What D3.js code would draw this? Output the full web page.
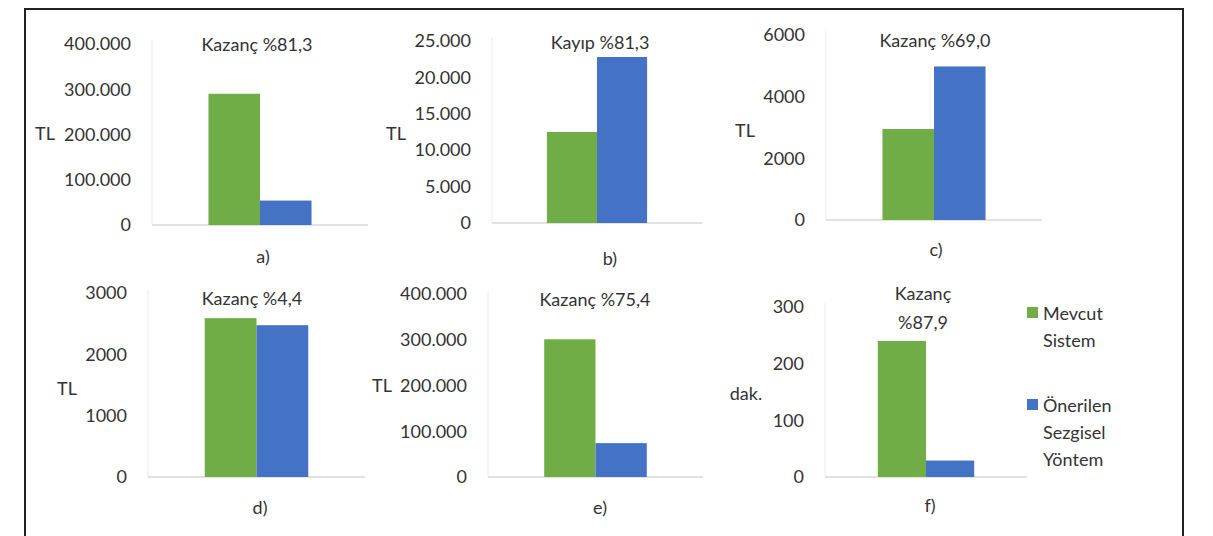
<!DOCTYPE html>
<html lang="tr">
<head>
<meta charset="utf-8">
<title>Mevcut Sistem / Önerilen Sezgisel Yöntem</title>
<script src="https://d3js.org/d3.v7.min.js"></script>
<style>
body { margin: 0; background: #fff; }
svg text { font-family: Lato, "Open Sans", sans-serif; fill: #333; }
</style>
</head>
<body>
<svg width="1213" height="536"></svg>
<script>
// data
var panelLabels = ["a)", "b)", "c)", "d)", "e)", "f)"];
var titles = [["Kazanç %81,3"], ["Kayıp %81,3"], ["Kazanç %69,0"], ["Kazanç %4,4"], ["Kazanç %75,4"], ["Kazanç", "%87,9"]];
var seriesNames = ["Mevcut Sistem", "Önerilen Sezgisel Yöntem"];
var mevcut = [290000, 12500, 2950, 2590, 301000, 240];
var onerilen = [54000, 22800, 4980, 2475, 74000, 29];
var yMax = [400000, 25000, 6000, 3000, 400000, 300];
var yStep = [100000, 5000, 2000, 1000, 100000, 100];
var yUnits = ["TL", "TL", "TL", "TL", "TL", "dak."];
var dotted = [true, true, false, false, true, false]; // 400.000 style thousands

var colors = ["#70ad47", "#4472c4"];

// where each small chart sits (plot area, unit label, titles)
var layout = [
  { left: 152, right: 368, top: 44, base: 225, unitX: 45, unitY: 133, titleX: 257, titleY: 44, subX: 263, subY: 256 },
  { left: 492, right: 702, top: 41, base: 223, unitX: 396, unitY: 133, titleX: 600, titleY: 42, subX: 610, subY: 258 },
  { left: 826, right: 1042, top: 35, base: 220, unitX: 745, unitY: 130, titleX: 935, titleY: 40, subX: 936, subY: 249 },
  { left: 148, right: 365, top: 293, base: 477, unitX: 67, unitY: 388, titleX: 252, titleY: 298, subX: 260, subY: 507 },
  { left: 488, right: 703, top: 294, base: 477, unitX: 382, unitY: 385, titleX: 595, titleY: 299, subX: 600, subY: 507 },
  { left: 825, right: 1027, top: 307, base: 477, unitX: 746, unitY: 393, titleX: 923, titleY: 293, subX: 930, subY: 505 }
];

var svg = d3.select("svg");

// outer frame (no bottom edge in the picture)
svg.append("path")
    .attr("d", "M25,540V9H1183V540")
    .attr("fill", "none")
    .attr("stroke", "#222")
    .attr("stroke-width", 2);

var trLocale = d3.formatLocale({ decimal: ",", thousands: ".", grouping: [3], currency: ["", " TL"] });

panelLabels.forEach(function(lbl, i) {
  var L = layout[i];
  var g = svg.append("g");

  var y = d3.scaleLinear().domain([0, yMax[i]]).range([L.base, L.top]);
  var x0 = d3.scaleBand().domain([lbl]).range([L.left, L.right]).padding(0.354);
  var x1 = d3.scaleBand().domain(seriesNames).range([0, x0.bandwidth()]);

  // faint value axis line + category axis line
  g.append("line")
      .attr("x1", L.left).attr("x2", L.left)
      .attr("y1", L.top - 4).attr("y2", L.base)
      .attr("stroke", "#ececec").attr("stroke-width", 1);
  g.append("line")
      .attr("x1", L.left).attr("x2", L.right)
      .attr("y1", L.base).attr("y2", L.base)
      .attr("stroke", "#d9d9d9").attr("stroke-width", 1.5);

  var fmt = dotted[i] ? trLocale.format(",d") : d3.format("d");
  var ax = g.append("g")
      .attr("transform", "translate(" + L.left + ",0)")
      .call(d3.axisLeft(y)
        .tickValues(d3.range(0, yMax[i] + 1, yStep[i]))
        .tickSize(0)
        .tickPadding(21)
        .tickFormat(fmt));
  ax.select(".domain").remove();
  ax.selectAll("text")
      .attr("font-size", 18)
      .attr("font-family", "Lato, 'Open Sans', sans-serif")
      .attr("fill", "#333");

  var vals = [mevcut[i], onerilen[i]];
  g.selectAll("rect.bar")
    .data(vals)
    .enter().append("rect")
      .attr("class", "bar")
      .attr("x", function(d, j) { return x0(lbl) + x1(seriesNames[j]); })
      .attr("width", x1.bandwidth())
      .attr("y", function(d) { return y(d); })
      .attr("height", function(d) { return L.base - y(d); })
      .attr("fill", function(d, j) { return colors[j]; });

  // unit label
  g.append("text")
      .attr("x", L.unitX).attr("y", L.unitY)
      .attr("text-anchor", "middle")
      .attr("dominant-baseline", "central")
      .attr("font-size", 18)
      .text(yUnits[i]);

  // chart title (one or two lines)
  titles[i].forEach(function(t, k) {
    g.append("text")
        .attr("x", L.titleX).attr("y", L.titleY + k * 29)
        .attr("text-anchor", "middle")
        .attr("dominant-baseline", "central")
        .attr("font-size", 18)
        .text(t);
  });

  // panel letter
  g.append("text")
      .attr("x", L.subX).attr("y", L.subY)
      .attr("text-anchor", "middle")
      .attr("dominant-baseline", "central")
      .attr("font-size", 18)
      .text(lbl);
});

// legend
var legendLines = [["Mevcut", "Sistem"], ["Önerilen", "Sezgisel", "Yöntem"]];
var legendY = [313, 405];
var leg = svg.append("g");
legendLines.forEach(function(lines, j) {
  leg.append("rect")
      .attr("x", 1027).attr("y", legendY[j] - 6)
      .attr("width", 11).attr("height", 11)
      .attr("fill", colors[j]);
  lines.forEach(function(t, k) {
    leg.append("text")
        .attr("x", 1043).attr("y", legendY[j] + k * 27)
        .attr("dominant-baseline", "central")
        .attr("font-size", 18)
        .text(t);
  });
});
</script>
</body>
</html>
